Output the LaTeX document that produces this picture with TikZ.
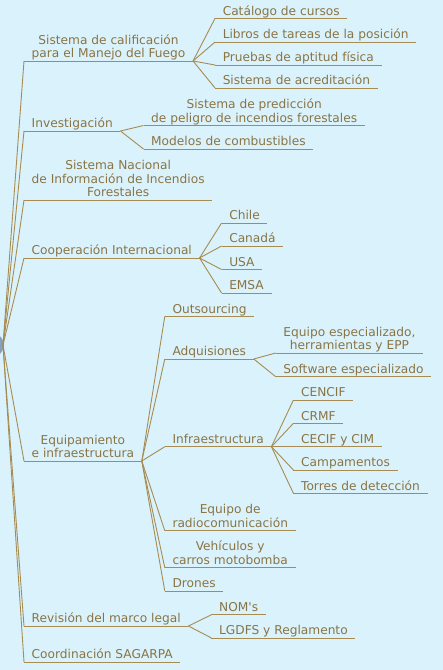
\documentclass[tikz,border=0pt]{standalone}
\usepackage{fontspec}
\setmainfont{DejaVu Sans}
\usetikzlibrary{calc}
\definecolor{bg}{HTML}{DAF2FB}
\definecolor{txt}{HTML}{8A7444}
\definecolor{ln}{HTML}{A68C52}
\definecolor{rootc}{HTML}{86A1BE}
\begin{document}
\begin{tikzpicture}[x=1pt,y=-1pt,
  topic/.style={anchor=south west, inner xsep=7.5pt, inner ysep=0.3pt, text depth=2.6pt,
    align=center, text=txt, font=\fontsize{12.2}{13.8}\selectfont},
  conn/.style={draw=ln, line width=0.9pt}]
\fill[bg] (0,0) rectangle (443,670);
\useasboundingbox (0,0) rectangle (443,670);
\fill[rootc] (-30,345) ellipse (34pt and 19pt);
\coordinate (root) at (3,345);

% top level
\node[topic] (n1) at (24,61) {Sistema de calificación\\para el Manejo del Fuego};
\node[topic] (n2) at (24,131) {Investigación};
\node[topic] (n3) at (24,200) {Sistema Nacional\\de Información de Incendios\\Forestales};
\node[topic] (n4) at (24,258) {Cooperación Internacional};
\node[topic] (n5) at (24,461) {Equipamiento\\e infraestructura};
\node[topic] (n6) at (24,626) {Revisión del marco legal};
\node[topic] (n7) at (24,662) {Coordinación SAGARPA};

% children of n1
\coordinate (j1) at ([xshift=22pt]n1.south east);
\node[topic] (c11) at (j1 |- 0,18.3) {Catálogo de cursos};
\node[topic] (c12) at (j1 |- 0,42) {Libros de tareas de la posición};
\node[topic] (c13) at (j1 |- 0,65) {Pruebas de aptitud física};
\node[topic] (c14) at (j1 |- 0,88) {Sistema de acreditación};

% children of n2
\coordinate (j2) at ([xshift=23pt]n2.south east);
\node[topic] (c21) at (j2 |- 0,125.5) {Sistema de predicción\\de peligro de incendios forestales};
\node[topic] (c22) at (j2 |- 0,149) {Modelos de combustibles};

% children of n4
\coordinate (j4) at ([xshift=22pt]n4.south east);
\node[topic] (c41) at (j4 |- 0,223) {Chile};
\node[topic] (c42) at (j4 |- 0,246) {Canadá};
\node[topic] (c43) at (j4 |- 0,269.5) {USA};
\node[topic] (c44) at (j4 |- 0,293) {EMSA};

% children of n5
\coordinate (j5) at ([xshift=23pt]n5.south east);
\node[topic] (c51) at (j5 |- 0,316.3) {Outsourcing};
\node[topic] (c52) at (j5 |- 0,359) {Adquisiones};
\node[topic] (c53) at (j5 |- 0,446.7) {Infraestructura};
\node[topic] (c54) at (j5 |- 0,530.7) {Equipo de\\radiocomunicación};
\node[topic] (c55) at (j5 |- 0,567.7) {Vehículos y\\carros motobomba};
\node[topic] (c56) at (j5 |- 0,591) {Drones};

% children of Adquisiones
\coordinate (j52) at ([xshift=22pt]c52.south east);
\node[topic] (d521) at (j52 |- 0,353) {Equipo especializado,\\herramientas y EPP};
\node[topic] (d522) at (j52 |- 0,376.7) {Software especializado};

% children of Infraestructura
\coordinate (j53) at ([xshift=22pt]c53.south east);
\node[topic] (d531) at (j53 |- 0,400) {CENCIF};
\node[topic] (d532) at (j53 |- 0,423.3) {CRMF};
\node[topic] (d533) at (j53 |- 0,446.7) {CECIF y CIM};
\node[topic] (d534) at (j53 |- 0,470) {Campamentos};
\node[topic] (d535) at (j53 |- 0,493.3) {Torres de detección};

% children of n6
\coordinate (j6) at ([xshift=23pt]n6.south east);
\node[topic] (c61) at (j6 |- 0,614.7) {NOM\textquotesingle s};
\node[topic] (c62) at (j6 |- 0,638) {LGDFS y Reglamento};

% underlines
\foreach \n in {n1,n2,n3,n4,n5,n6,n7,c11,c12,c13,c14,c21,c22,c41,c42,c43,c44,
  c51,c52,c53,c54,c55,c56,d521,d522,d531,d532,d533,d534,d535,c61,c62}
  \draw[conn] (\n.south west) -- (\n.south east);

% connectors
\foreach \n in {n1,n2,n3,n4,n5,n6,n7} \draw[conn] (root) -- (\n.south west);
\foreach \c in {c11,c12,c13,c14} \draw[conn] (n1.south east) -- (\c.south west);
\foreach \c in {c21,c22} \draw[conn] (n2.south east) -- (\c.south west);
\foreach \c in {c41,c42,c43,c44} \draw[conn] (n4.south east) -- (\c.south west);
\foreach \c in {c51,c52,c53,c54,c55,c56} \draw[conn] (n5.south east) -- (\c.south west);
\foreach \c in {d521,d522} \draw[conn] (c52.south east) -- (\c.south west);
\foreach \c in {d531,d532,d533,d534,d535} \draw[conn] (c53.south east) -- (\c.south west);
\foreach \c in {c61,c62} \draw[conn] (n6.south east) -- (\c.south west);
\end{tikzpicture}
\end{document}
